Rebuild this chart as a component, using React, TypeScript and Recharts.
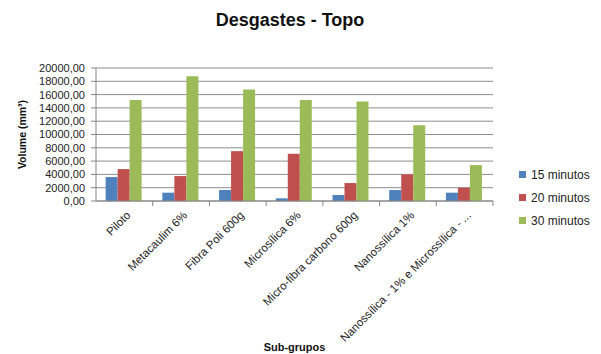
import React from 'react';
import { BarChart, Bar, XAxis, YAxis, CartesianGrid, Legend } from 'recharts';

const categories = [
  'Piloto',
  'Metacaulim 6%',
  'Fibra Poli 600g',
  'Microsílica 6%',
  'Micro-fibra carbono 600g',
  'Nanossílica 1%',
  'Nanossílica - 1% e Microssílica - ...',
];
const min15 = [3600, 1250, 1650, 400, 900, 1650, 1250];
const min20 = [4800, 3750, 7500, 7100, 2700, 4000, 2000];
const min30 = [15200, 18750, 16750, 15200, 14950, 11400, 5400];
const yTicks = [0, 2000, 4000, 6000, 8000, 10000, 12000, 14000, 16000, 18000, 20000];

const series = [
  { key: 'm15', name: '15 minutos', color: '#4F81BD' },
  { key: 'm20', name: '20 minutos', color: '#C0504D' },
  { key: 'm30', name: '30 minutos', color: '#9BBB59' },
];

const data = categories.map((c, i) => ({ name: c, m15: min15[i], m20: min20[i], m30: min30[i] }));

const FONT = '"Liberation Sans", Arial, sans-serif';
const BAND = 397 / 7;

const fmt = (v: number) => v.toFixed(2).replace('.', ',');

const XTick = (props: any) => {
  const { x, y, payload } = props;
  return (
    <g transform={`translate(${x},${y})`}>
      <line x1={BAND / 2} y1={0} x2={BAND / 2} y2={5} stroke="#868686" />
      <text
        transform="translate(7,15) rotate(-45)"
        textAnchor="end"
        fontSize={11.5}
        fontFamily={FONT}
        fill="#222"
      >
        {payload.value}
      </text>
    </g>
  );
};

const LegendBox = () => (
  <div style={{ fontFamily: FONT, fontSize: 12, color: '#222' }}>
    {series.map(s => (
      <div key={s.key} style={{ display: 'flex', alignItems: 'center', height: 23 }}>
        <span style={{ width: 7, height: 7, background: s.color, marginRight: 5, display: 'inline-block' }} />
        {s.name}
      </div>
    ))}
  </div>
);

export default function App() {
  return (
    <div style={{ position: 'absolute', left: 0, top: 0, width: 601, height: 354, background: '#fff' }}>
      <div
        style={{
          position: 'absolute', left: 0, top: 10, width: 580, textAlign: 'center',
          fontFamily: FONT, fontWeight: 'bold', fontSize: 18, color: '#111',
        }}
      >
        Desgastes - Topo
      </div>
      <BarChart
        width={601}
        height={354}
        data={data}
        margin={{ top: 68, right: 28, bottom: 0, left: 14 }}
        barCategoryGap="17%"
        barGap={0}
      >
        <CartesianGrid vertical={false} stroke="#8c8c8c" />
        <XAxis
          dataKey="name"
          interval={0}
          height={153}
          tick={<XTick />}
          tickLine={false}
          tickSize={0}
          tickMargin={0}
          axisLine={{ stroke: '#868686' }}
          label={{ value: 'Sub-grupos', position: 'insideBottom', offset: 3, fontFamily: FONT, fontSize: 11, fontWeight: 'bold', fill: '#111' }}
        />
        <YAxis
          width={82}
          domain={[0, 20000]}
          ticks={yTicks}
          interval={0}
          tickFormatter={fmt}
          tick={{ fontFamily: FONT, fontSize: 11, fill: '#222' }}
          tickSize={5}
          tickMargin={6}
          tickLine={{ stroke: '#868686' }}
          axisLine={{ stroke: '#868686' }}
          label={{ value: 'Volume (mm³)', angle: -90, position: 'insideLeft', offset: 8, style: { textAnchor: 'middle' }, fontFamily: FONT, fontSize: 10.5, fontWeight: 'bold', fill: '#111' }}
        />
        <Legend
          layout="vertical"
          align="right"
          verticalAlign="middle"
          width={80}
          content={<LegendBox />}
          wrapperStyle={{ left: 519, top: 163, right: 'auto' }}
        />
        {series.map(s => (
          <Bar key={s.key} dataKey={s.key} name={s.name} fill={s.color} isAnimationActive={false} />
        ))}
      </BarChart>
    </div>
  );
}
